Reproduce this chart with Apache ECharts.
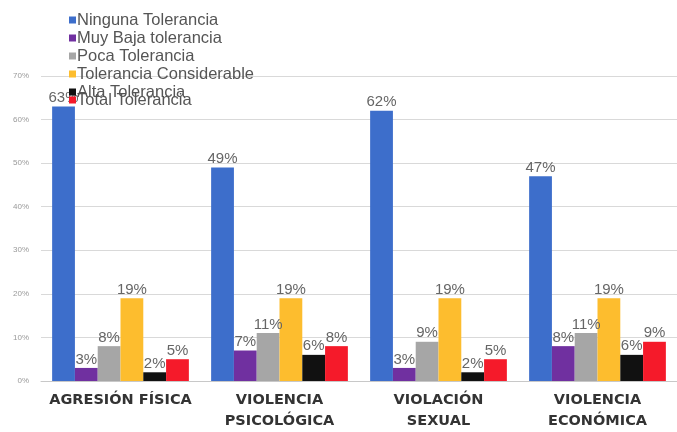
<!DOCTYPE html>
<html><head><meta charset="utf-8">
<script src="https://cdn.jsdelivr.net/npm/echarts@6/dist/echarts.min.js"></script>
<style>html,body{margin:0;padding:0;background:#fff}#c{width:677px;height:432px}</style>
</head><body><div id="c"></div>
<script>
const categories = ['AGRESIÓN FÍSICA', 'VIOLENCIA\nPSICOLÓGICA', 'VIOLACIÓN\nSEXUAL', 'VIOLENCIA\nECONÓMICA'];
const seriesNames = ['Ninguna Tolerancia', 'Muy Baja tolerancia', 'Poca Tolerancia', 'Tolerancia Considerable', 'Alta Tolerancia', 'Total Tolerancia'];
const ninguna = [63, 49, 62, 47];
const muyBaja = [3, 7, 3, 8];
const poca = [8, 11, 9, 11];
const considerable = [19, 19, 19, 19];
const alta = [2, 6, 2, 6];
const total = [5, 8, 5, 9];
const yTicks = [0, 10, 20, 30, 40, 50, 60, 70];

const values = [ninguna, muyBaja, poca, considerable, alta, total];
const colors = ['#3d6ecb', '#7030a0', '#a6a6a6', '#fdbd2e', '#111111', '#f51a2a'];

const chart = echarts.init(document.getElementById('c'));
chart.setOption({
  animation: false,
  backgroundColor: '#fff',
  textStyle: { fontFamily: 'Liberation Sans, Arial, sans-serif' },
  legend: [
    {
      data: seriesNames.slice(0, 5),
      orient: 'vertical', left: 64, top: 6,
      itemWidth: 7, itemHeight: 7, itemGap: 0,
      icon: 'rect',
      textStyle: { fontSize: 16.5, color: '#555', padding: [0, 0, 0, -4], lineHeight: 18 }
    },
    {
      data: [seriesNames[5]],
      orient: 'vertical', left: 64, top: 86,
      itemWidth: 7, itemHeight: 7,
      icon: 'rect',
      textStyle: { fontSize: 16.5, color: '#555', padding: [0, 0, 0, -4], lineHeight: 18 }
    }
  ],
  grid: { left: 41, top: 76, width: 644, height: 308, containLabel: false },
  xAxis: {
    type: 'category',
    data: categories,
    axisLine: { lineStyle: { color: '#c8c8c8' } },
    axisTick: { show: false },
    axisLabel: {
      interval: 0, margin: 9,
      fontSize: 14.5, fontWeight: 'bold', color: '#333',
      lineHeight: 21, fontFamily: 'DejaVu Sans'
    }
  },
  yAxis: {
    type: 'value', min: 0, max: 70, interval: 10,
    axisLine: { show: false },
    axisTick: { show: false },
    splitLine: { lineStyle: { color: '#d9d9d9' } },
    axisLabel: { fontSize: 8, color: '#999', margin: 12, formatter: v => yTicks.includes(v) ? v + '%' : '' }
  },
  series: seriesNames.map((n, i) => ({
    name: n,
    type: 'bar',
    data: values[i],
    barGap: '0%',
    barCategoryGap: '14%',
    itemStyle: { color: colors[i] },
    label: {
      show: true, position: 'top', distance: 1,
      fontSize: 15, color: '#666',
      formatter: p => p.value + '%'
    }
  }))
});
</script>
</body></html>
